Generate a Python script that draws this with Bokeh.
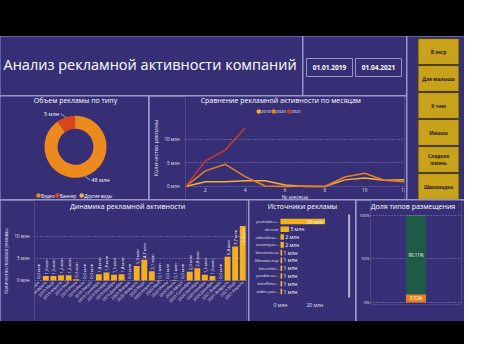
import math
from bokeh.plotting import figure
from bokeh.layouts import row, column
from bokeh.models import Range1d, FactorRange, FixedTicker, Spacer
from bokeh.core.properties import value
from bokeh.embed import file_html
from bokeh.resources import INLINE

# ---------------- data ----------------
dashboard_title = "Анализ рекламной активности компаний"
date_range = ["01.01.2019", "01.04.2021"]
brands = ["В лесу", "Для малыша", "К чаю", "Мишка", "Сладкая\nжизнь", "Шоколадка"]

ad_types = ["Видео", "Баннер", "Другие виды"]
ad_volume = [48, 5, 0.2]  # млн
ad_volume_labels = ["48 млн", "5 млн", ""]

years = ["2019", "2020", "2021"]
month_numbers = [1, 2, 3, 4, 5, 6, 7, 8, 9, 10, 11, 12]
month_names = ["Январь", "Февраль", "Март", "Апрель", "Май", "Июнь",
               "Июль", "Август", "Сентябрь", "Октябрь", "Ноябрь", "Декабрь"]
activity_2019 = [0.0, 1.0, 1.0, 1.2, 1.2, 0.3, 0.0, 0.0, 1.4, 1.8, 1.3, 1.4]
activity_2020 = [0.0, 3.3, 4.7, 2.1, 0.1, 0.0, 0.1, 0.0, 2.0, 2.8, 1.3, 1.0]
activity_2021 = [0.0, 5.4, 7.7, 12.4]

sources = ["youtube.c...", "vk.com", "odnoklass...", "eravenjon...", "kinotrina.ru",
           "lifenews.top", "kinochel...", "yandex.ru...", "kinofilms...", "video.yan..."]
source_values = [26, 5, 2, 2, 1, 1, 1, 1, 1, 1]
source_labels = ["26 млн", "5 млн", "2 млн", "2 млн", "1 млн", "1 млн", "1 млн", "1 млн", "1 млн", "1 млн"]

placement_types = ["Баннер", "Видео", "Другие виды"]
placement_share = [9.52, 90.11, 0.37]
placement_labels = ["9,52%", "90,11%", ""]

# ---------------- style ----------------
BG = "#372f76"
SEP = "#9896c8"
TXT = "#ffffff"
TICK = "#e6e4f4"
GRID = "#8d89bd"
GOLD = "#f3af1e"
BTN = "#c9a21c"
FONT = "Open Sans"
type_colors = ["#ec8a1d", "#d9441a", "#f3b33d"]
year_colors = ["#f2b134", "#e8811e", "#c9392a"]
placement_colors = ["#e57f1b", "#1e5b47", "#f3b33d"]


def base_fig(w, h, xr, yr, left=0, right=0, top=0, bottom=0, axes=True):
    kw = dict(width=w, height=h, x_range=xr, y_range=yr, output_backend="svg",
              toolbar_location=None, min_border_left=left, min_border_right=right,
              min_border_top=top, min_border_bottom=bottom, frame_align=False,
              background_fill_color=BG, border_fill_color=BG, outline_line_color=None)
    if not axes:
        kw.update(x_axis_type=None, y_axis_type=None)
    p = figure(**kw)
    p.grid.visible = False
    return p


def style_axis(ax, size="4.5px", standoff=2):
    ax.axis_line_color = None
    ax.major_tick_line_color = None
    ax.minor_tick_line_color = None
    ax.major_tick_out = 0
    ax.major_tick_in = 0
    ax.minor_tick_out = 0
    ax.minor_tick_in = 0
    ax.major_label_text_font = FONT
    ax.major_label_text_font_size = size
    ax.major_label_text_color = TICK
    ax.major_label_standoff = standoff
    ax.axis_label_text_font = FONT
    ax.axis_label_text_font_style = "normal"
    ax.axis_label_text_color = TICK


def txt(p, x, y, t, size, align="center", baseline="middle", color=TXT, angle=0.0, style="normal"):
    p.text(x=x, y=y, text=t, text_font=value(FONT), text_font_size=size, text_color=color,
           text_align=align, text_baseline=baseline, angle=angle, text_font_style=style)


def mln(v):
    return f"{v:.1f}".replace(".", ",") + " млн"


# ---------------- title ----------------
tf = base_fig(302, 59, Range1d(0, 302), Range1d(59, 0), axes=False)
txt(tf, [3], [28], [dashboard_title], "14.5px", align="left")

# ---------------- dates ----------------
df = base_fig(103, 59, Range1d(-26 / 49, 77 / 49), Range1d(0, 59), axes=False)
date_idx = list(range(len(date_range)))
df.rect(x=date_idx, y=28, width=46 / 49, height=18, fill_color=BG, line_color=SEP, line_width=1)
txt(df, date_idx, [28] * len(date_range), date_range, "6.5px", style="bold")

# ---------------- donut ----------------
dn = base_fig(148, 103, Range1d(0, 148), Range1d(0, 103), axes=False)
cx, cy, r_in, r_out = 75, 52.7, 18, 31
tot = sum(ad_volume)
starts, ends, cum = [], [], 0.0
for v in ad_volume:
    starts.append(math.pi / 2 - (cum + v) / tot * 2 * math.pi)
    ends.append(math.pi / 2 - cum / tot * 2 * math.pi)
    cum += v
dn.annular_wedge(x=cx, y=cy, inner_radius=r_in, outer_radius=r_out, inner_radius_units="screen",
                 outer_radius_units="screen", start_angle=starts, end_angle=ends,
                 fill_color=type_colors, line_color=None)
for a0, a1, lab in zip(starts, ends, ad_volume_labels):
    if not lab:
        continue
    mid = (a0 + a1) / 2
    sx, sy = cx + r_out * math.cos(mid), cy + r_out * math.sin(mid)
    dx = 1 if math.cos(mid) > 0 else -1
    dy = 1 if math.sin(mid) > 0 else -1
    ex, ey = sx + 5 * dx, sy + 3.5 * dy
    dn.line([sx, ex], [sy, ey], line_color="#c8c6e4", line_width=0.8)
    txt(dn, [ex + 1.5 * dx], [ey], [lab], "5.5px", align="left" if dx > 0 else "right")
txt(dn, [75], [99.5], ["Объем рекламы по типу"], "7px")
leg_x = [38, 57, 81.2]
dn.scatter(x=leg_x, y=4, size=4.5, fill_color=type_colors, line_color=None)
txt(dn, [x + 2.5 for x in leg_x], [4] * 3, ad_types, "4.5px", align="left")

# ---------------- monthly comparison lines ----------------
LY0, LY1, LFH, LFW = -2.75, 19.03, 103, 222
lc = base_fig(257, 103, Range1d(1, 12), Range1d(LY0, LY1), left=33, right=2, top=0, bottom=0)
lc_x = lambda px: 1 + (px - 33) / LFW * 11
lc_y = lambda py: LY1 - py / LFH * (LY1 - LY0)
for vals, col in zip([activity_2019, activity_2020, activity_2021], year_colors):
    lc.line(month_numbers[:len(vals)], vals, line_color=col, line_width=1.5)
style_axis(lc.xaxis[0], "4.5px", 2)
style_axis(lc.yaxis[0], "4.5px", 6)
lc.xaxis.fixed_location = 0
lc.xaxis.ticker = FixedTicker(ticks=[2, 4, 6, 8, 10, 12])
lc.yaxis.ticker = FixedTicker(ticks=[0, 5, 10])
lc.yaxis.major_label_overrides = {0: "0 млн", 5: "5 млн", 10: "10 млн"}
lc.yaxis.axis_label = "Количество рекламы"
lc.yaxis.axis_label_text_font_size = "5.5px"
lc.yaxis.axis_label_standoff = 1
lc.ygrid.visible = True
lc.ygrid.grid_line_color = GRID
lc.ygrid.grid_line_dash = "1 2"
txt(lc, [lc_x(144)], [lc_y(100)], ["№ месяца"], "5.5px", color=TICK)
txt(lc, [lc_x(129.6)], [lc_y(3.5)], ["Сравнение рекламной активности по месяцам"], "7px")
leg_px = [107.3, 122.5, 138.0]
lc.scatter(x=[lc_x(v) for v in leg_px], y=lc_y(15), size=4.5, fill_color=year_colors, line_color=None)
txt(lc, [lc_x(v + 2.2) for v in leg_px], [lc_y(15)] * 3, years, "4.3px", align="left")

# ---------------- dynamics bars ----------------
series = [activity_2019, activity_2020, activity_2021]
bar_months = [f"{y} {m}" for y, vals in zip(years, series) for m in month_names[:len(vals)]]
bar_values = activity_2019 + activity_2020 + activity_2021
BY0, BY1, BFH, BFW = -9.32, 18.18, 121, 218
bc = base_fig(248, 121, FactorRange(factors=bar_months, range_padding=0), Range1d(BY0, BY1),
              left=28, right=2, top=0, bottom=0)
bc_x = lambda px: (px - 28) / BFW * len(bar_months)
bc_y = lambda py: BY1 - py / BFH * (BY1 - BY0)
bc.vbar(x=bar_months, top=bar_values, width=0.78, fill_color=GOLD, line_color=None)
out_m = [m for m, v in zip(bar_months, bar_values) if v <= 10]
out_v = [v + 0.35 for v in bar_values if v <= 10]
out_t = [mln(v) for v in bar_values if v <= 10]
in_m = [m for m, v in zip(bar_months, bar_values) if v > 10]
in_v = [v - 0.35 for v in bar_values if v > 10]
in_t = [mln(v) for v in bar_values if v > 10]
txt(bc, out_m, out_v, out_t, "4.3px", align="left", angle=math.pi / 2)
txt(bc, in_m, in_v, in_t, "4.3px", align="right", angle=math.pi / 2)
style_axis(bc.xaxis[0], "4px", 1)
style_axis(bc.yaxis[0], "4.5px", 5)
bc.xaxis.fixed_location = 0
bc.xaxis.major_label_orientation = math.pi / 4
bc.yaxis.ticker = FixedTicker(ticks=[0, 5, 10])
bc.yaxis.major_label_overrides = {0: "0 млн", 5: "5 млн", 10: "10 млн"}
bc.yaxis.axis_label = "Количество показов рекламы"
bc.yaxis.axis_label_text_font_size = "4.5px"
bc.yaxis.axis_label_standoff = 2
bc.ygrid.visible = True
bc.ygrid.grid_line_color = GRID
bc.ygrid.grid_line_dash = "1 2"
txt(bc, [bc_x(123.8)], [bc_y(6)], ["Динамика рекламной активности"], "7px")

# ---------------- sources ----------------
SX0, SX1, SY0, SY1 = -18.08, 43.75, 12.85, -2.70
sc = base_fig(106, 121, Range1d(SX0, SX1), Range1d(SY0, SY1))
sc_x = lambda px: SX0 + px / 106 * (SX1 - SX0)
sc_y = lambda py: SY1 + py / 121 * (SY0 - SY1)
src_idx = list(range(len(sources)))
sc.hbar(y=src_idx, left=0, right=source_values, height=0.72, fill_color=GOLD, line_color=None)
lim = max(source_values) * 0.5
txt(sc, [v + 0.8 for v in source_values if v <= lim], [i for i, v in zip(src_idx, source_values) if v <= lim],
    [t for t, v in zip(source_labels, source_values) if v <= lim], "5px", align="left")
txt(sc, [v - 0.8 for v in source_values if v > lim], [i for i, v in zip(src_idx, source_values) if v > lim],
    [t for t, v in zip(source_labels, source_values) if v > lim], "5px", align="right")
sc.quad(left=sc_x(98.6), right=sc_x(100.6), bottom=sc_y(97), top=sc_y(14), fill_color="#b4b2cc", line_color=None)
style_axis(sc.xaxis[0], "5px", 6)
style_axis(sc.yaxis[0], "4.2px", 2)
sc.xaxis.fixed_location = sc_y(95)
sc.yaxis.fixed_location = 0
sc.xaxis.ticker = FixedTicker(ticks=[0, 20])
sc.xaxis.major_label_overrides = {0: "0 млн", 20: "20 млн"}
sc.yaxis.ticker = FixedTicker(ticks=src_idx)
sc.yaxis.major_label_overrides = {i: s for i, s in zip(src_idx, sources)}
txt(sc, [sc_x(53)], [sc_y(6)], ["Источники рекламы"], "7px")

# ---------------- placement share ----------------
PY0, PY1, PFH, PFW = -2.3, 117.2, 104, 92
sh = base_fig(108, 121, Range1d(0, 1), Range1d(PY0, PY1), left=13, right=3, top=0, bottom=17)
sh_x = lambda px: (px - 13) / PFW
sh_y = lambda py: PY1 - py / PFH * (PY1 - PY0)
bottoms, tops, c = [], [], 0.0
for v in placement_share:
    bottoms.append(c)
    c += v
    tops.append(c)
sh.vbar(x=0.5, bottom=bottoms, top=tops, width=0.22, fill_color=placement_colors, line_color=None)
lab_y = [(b + t) / 2 for b, t, l in zip(bottoms, tops, placement_labels) if l]
txt(sh, [0.5] * len(lab_y), lab_y, [l for l in placement_labels if l], "4.5px")
style_axis(sh.yaxis[0], "4px", 1)
sh.xaxis.visible = False
sh.yaxis.ticker = FixedTicker(ticks=[0, 50, 100])
sh.yaxis.major_label_overrides = {0: "0%", 50: "50%", 100: "100%"}
sh.ygrid.visible = True
sh.ygrid.grid_line_color = GRID
sh.ygrid.grid_line_dash = "1 2"
txt(sh, [sh_x(56)], [sh_y(6)], ["Доля типов размещения"], "7px")

# ---------------- brand buttons ----------------
bt = base_fig(57, 163, Range1d(0, 57), Range1d(148 / 27, -15 / 27), axes=False)
b_idx = list(range(len(brands)))
bt.rect(x=31, y=b_idx, width=41, height=0.96, fill_color=BTN, line_color="#4a3f18", line_width=1)
txt(bt, [31] * len(brands), b_idx, brands, "4.8px", color="#1e1a10", style="bold")

# ---------------- layout ----------------
left_block = column(row(tf, df, spacing=1), row(dn, lc, spacing=1), spacing=1)
top_section = row(left_block, bt, spacing=1)
bottom_section = row(bc, sc, sh, spacing=1)
inner = column(top_section, bottom_section, spacing=1, styles={"background-color": SEP})
page = column(Spacer(width=464, height=36), inner, Spacer(width=464, height=23),
              spacing=0, styles={"background-color": "#000000"})

open("out.html", "w").write(file_html(page, INLINE))
